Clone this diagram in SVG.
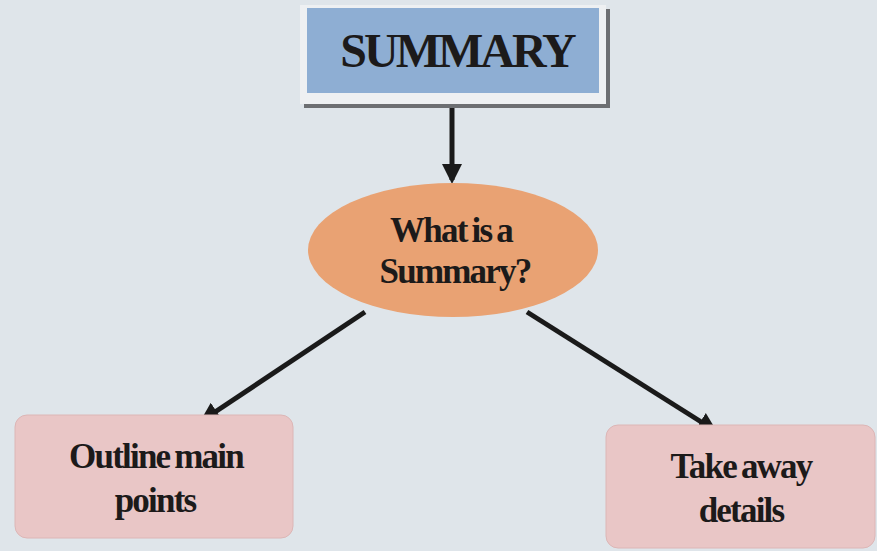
<svg xmlns="http://www.w3.org/2000/svg" width="877" height="551" viewBox="0 0 877 551">
<defs>
<style>
.t{font-family:"Liberation Serif","Times New Roman",serif;font-weight:bold;fill:#1c1a1a;text-anchor:middle}
.lbl{font-size:35px;letter-spacing:-1.8px;word-spacing:-2px}
.box{fill:#e9c6c6;stroke:#dcb6b6;stroke-width:1}
.edge{stroke:#1a1a1a;stroke-width:5;fill:none;marker-end:url(#ah)}
</style>
<marker id="ah" viewBox="0 0 10 10" refX="8" refY="5" markerWidth="4" markerHeight="4" orient="auto" markerUnits="strokeWidth">
<path d="M0,0 L10,5 L0,10 z" fill="#1a1a1a"/>
</marker>
</defs>
<rect width="877" height="551" fill="#dfe5ea"/>
<g id="connectors">
<line class="edge" x1="452" y1="108" x2="452" y2="180"/>
<line class="edge" x1="365" y1="312" x2="203" y2="420"/>
<line class="edge" x1="527" y1="312" x2="714" y2="430"/>
</g>
<g id="summary">
<rect x="304" y="9" width="306" height="99" fill="#6d6f72"/>
<rect x="300" y="5" width="306" height="99" fill="#eef0f2"/>
<rect x="307" y="8" width="292" height="85" fill="#8eaed3"/>
<text class="t" x="457" y="67" font-size="48" letter-spacing="-3">SUMMARY</text>
</g>
<g id="what">
<ellipse cx="453" cy="250" rx="145" ry="67" fill="#e9a273"/>
<text class="t lbl" x="451" y="242">What is a</text>
<text class="t lbl" x="455" y="283">Summary?</text>
</g>
<g id="outline">
<rect class="box" x="15" y="415" width="278" height="123" rx="12"/>
<text class="t lbl" x="156" y="468">Outline main</text>
<text class="t lbl" x="155" y="512">points</text>
</g>
<g id="take">
<rect class="box" x="606" y="425" width="269" height="123" rx="12"/>
<text class="t lbl" x="741" y="478">Take away</text>
<text class="t lbl" x="741" y="522">details</text>
</g>
</svg>
